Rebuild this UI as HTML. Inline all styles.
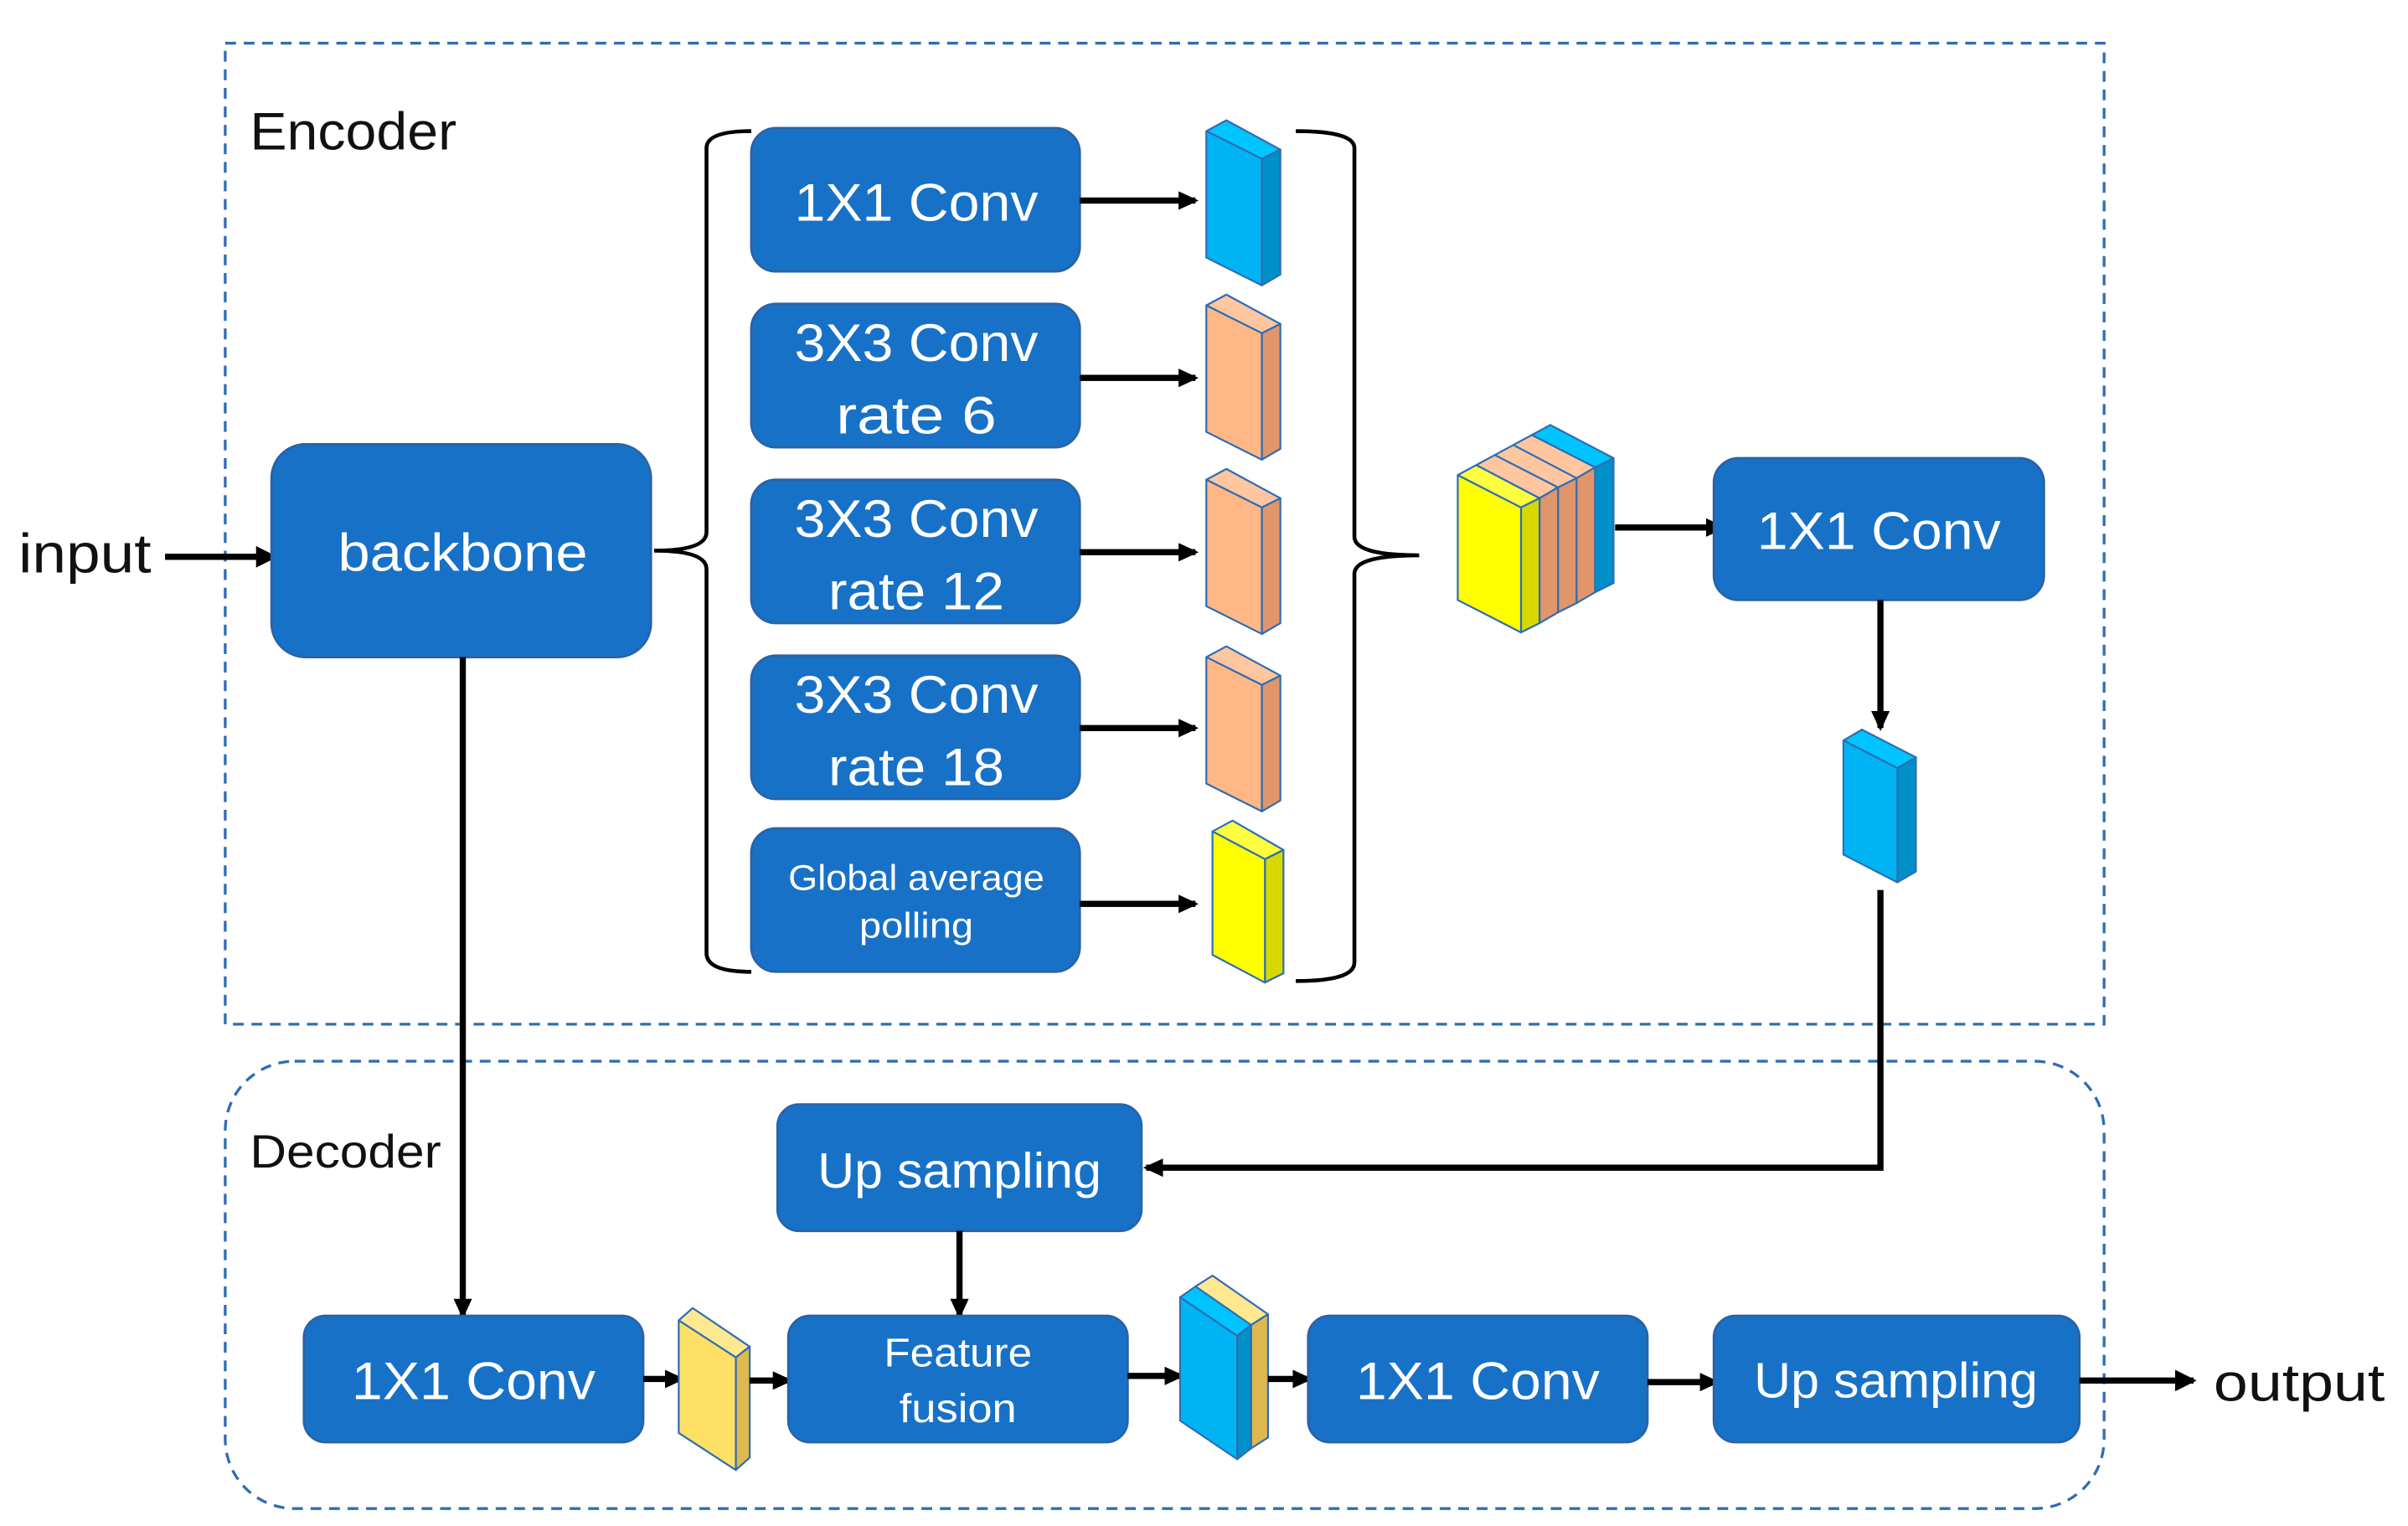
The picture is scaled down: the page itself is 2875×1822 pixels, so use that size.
<!DOCTYPE html>
<html><head><meta charset="utf-8"><style>
html,body{margin:0;padding:0;background:#fff;}
svg{display:block;}
text{font-family:"Liberation Sans",sans-serif;}
.w{fill:#fff;text-anchor:middle;}
.b{fill:#1771C7;stroke:#2A62A8;stroke-width:1.5;}
.ln{stroke:#000;stroke-width:4;fill:none;}
.br{stroke:#000;stroke-width:2.5;fill:none;}
.blk{stroke:#2E6DB4;stroke-width:1.2;stroke-linejoin:round;}
</style></head><body>
<svg width="2875" height="1822" viewBox="0 0 1561 989.3" preserveAspectRatio="none" xmlns="http://www.w3.org/2000/svg">
<defs>
<marker id="ah" markerWidth="13" markerHeight="12" refX="11" refY="6" orient="auto" markerUnits="userSpaceOnUse">
<path d="M0,0 L13,6 L0,12 z" fill="#000"/></marker>
<marker id="ah2" markerWidth="14" markerHeight="14" refX="12" refY="7" orient="auto" markerUnits="userSpaceOnUse">
<path d="M0,0 L14,7 L0,14 z" fill="#000"/></marker>
</defs>

<rect x="146" y="28" width="1218" height="636" fill="none" stroke="#2E6DB4" stroke-width="1.8" stroke-dasharray="7,5"/>
<rect x="146" y="688" width="1218" height="290" rx="45" fill="none" stroke="#2E6DB4" stroke-width="1.8" stroke-dasharray="7,5"/>
<text x="162" y="97" font-size="34" fill="#111" textLength="134" lengthAdjust="spacingAndGlyphs">Encoder</text>
<text x="162" y="757" font-size="30" fill="#111" textLength="124" lengthAdjust="spacingAndGlyphs">Decoder</text>

<text x="12" y="371" font-size="36" fill="#111" textLength="86" lengthAdjust="spacingAndGlyphs">input</text>
<line class="ln" x1="107" y1="361" x2="178" y2="361" marker-end="url(#ah2)"/>

<rect class="b" x="176" y="288" width="246" height="138" rx="22"/>
<text class="w" x="300" y="370" font-size="34" textLength="162" lengthAdjust="spacingAndGlyphs">backbone</text>

<path class="br" d="M487,85 Q458,85 458,96 L458,345 Q458,357 424,357 Q458,357 458,369 L458,618 Q458,630 487,630"/>
<path class="br" d="M840,85 Q878,85 878,96 L878,348 Q878,360 920,360 Q878,360 878,372 L878,624 Q878,636 840,636"/>

<rect class="b" x="487" y="83" width="213" height="93" rx="16"/>
<text class="w" x="594" y="143" font-size="34" textLength="158" lengthAdjust="spacingAndGlyphs">1X1 Conv</text>
<rect class="b" x="487" y="197" width="213" height="93" rx="16"/>
<text class="w" x="594" y="234" font-size="34" textLength="158" lengthAdjust="spacingAndGlyphs">3X3 Conv</text>
<text class="w" x="594" y="281" font-size="34" textLength="104" lengthAdjust="spacingAndGlyphs">rate 6</text>
<rect class="b" x="487" y="311" width="213" height="93" rx="16"/>
<text class="w" x="594" y="348" font-size="34" textLength="158" lengthAdjust="spacingAndGlyphs">3X3 Conv</text>
<text class="w" x="594" y="395" font-size="34" textLength="114" lengthAdjust="spacingAndGlyphs">rate 12</text>
<rect class="b" x="487" y="425" width="213" height="93" rx="16"/>
<text class="w" x="594" y="462" font-size="34" textLength="158" lengthAdjust="spacingAndGlyphs">3X3 Conv</text>
<text class="w" x="594" y="509" font-size="34" textLength="114" lengthAdjust="spacingAndGlyphs">rate 18</text>
<rect class="b" x="487" y="537" width="213" height="93" rx="16"/>
<text class="w" x="594" y="577" font-size="23" textLength="166" lengthAdjust="spacingAndGlyphs">Global average</text>
<text class="w" x="594" y="608" font-size="23" textLength="74" lengthAdjust="spacingAndGlyphs">polling</text>

<line class="ln" x1="700" y1="130" x2="775" y2="130" marker-end="url(#ah)"/>
<line class="ln" x1="700" y1="245" x2="775" y2="245" marker-end="url(#ah)"/>
<line class="ln" x1="700" y1="358" x2="775" y2="358" marker-end="url(#ah)"/>
<line class="ln" x1="700" y1="472" x2="775" y2="472" marker-end="url(#ah)"/>
<line class="ln" x1="700" y1="586" x2="775" y2="586" marker-end="url(#ah)"/>

<g class="blk">
<polygon points="782,85 795,78 830,97 818,103" fill="#00C4FF"/>
<polygon points="818,103 830,97 830,178 818,185" fill="#0090C8"/>
<polygon points="782,85 818,103 818,185 782,167" fill="#00B4F4"/>
<polygon points="782,198 795,191 830,210 818,216" fill="#FFC6A0"/>
<polygon points="818,216 830,210 830,291 818,298" fill="#E0966A"/>
<polygon points="782,198 818,216 818,298 782,280" fill="#FFB885"/>
<polygon points="782,311 795,304 830,323 818,329" fill="#FFC6A0"/>
<polygon points="818,329 830,323 830,404 818,411" fill="#E0966A"/>
<polygon points="782,311 818,329 818,411 782,393" fill="#FFB885"/>
<polygon points="782,426 795,419 830,438 818,444" fill="#FFC6A0"/>
<polygon points="818,444 830,438 830,519 818,526" fill="#E0966A"/>
<polygon points="782,426 818,444 818,526 782,508" fill="#FFB885"/>
<polygon points="786,539 799,532 832,551 820,557" fill="#FFFF40"/>
<polygon points="820,557 832,551 832,631 820,637" fill="#D8D800"/>
<polygon points="786,539 820,557 820,637 786,619" fill="#FFFF00"/>
</g>

<g class="blk">
<polygon points="993,282 1005,275.5 1046,297 1034,303" fill="#00C4FF"/>
<polygon points="1034,303 1046,297 1046,378 1034,384" fill="#0090C8"/>
<polygon points="981,288.5 993,282 1034,303 1022,310" fill="#FFC6A0"/>
<polygon points="1022,310 1034,303 1034,384 1022,391" fill="#E0966A"/>
<polygon points="969,295 981,288.5 1022,310 1010,316" fill="#FFC6A0"/>
<polygon points="1010,316 1022,310 1022,391 1010,397" fill="#E0966A"/>
<polygon points="957,301.5 969,295 1010,316 998,323" fill="#FFC6A0"/>
<polygon points="998,323 1010,316 1010,397 998,404" fill="#E0966A"/>
<polygon points="945,308 957,301.5 998,323 986,329" fill="#FFFF40"/>
<polygon points="986,329 998,323 998,404 986,410" fill="#D8D800"/>
<polygon points="945,308 986,329 986,410 945,389" fill="#FFFF00"/>
</g>
<line class="ln" x1="1047" y1="342" x2="1117" y2="342" marker-end="url(#ah)"/>

<rect class="b" x="1111" y="297" width="214" height="92" rx="16"/>
<text class="w" x="1218" y="356" font-size="34" textLength="158" lengthAdjust="spacingAndGlyphs">1X1 Conv</text>
<line class="ln" x1="1219" y1="389" x2="1219" y2="472" marker-end="url(#ah)"/>

<g class="blk">
<polygon points="1195,480 1207,473 1242,491 1230,498" fill="#00C4FF"/>
<polygon points="1230,498 1242,491 1242,565 1230,572" fill="#0090C8"/>
<polygon points="1195,480 1230,498 1230,572 1195,554" fill="#00B4F4"/>
</g>

<path class="ln" d="M1219,577 L1219,757 L743,757" marker-end="url(#ah)"/>
<rect class="b" x="504" y="716" width="236" height="82" rx="14"/>
<text class="w" x="622" y="770" font-size="32" textLength="184" lengthAdjust="spacingAndGlyphs">Up sampling</text>
<line class="ln" x1="622" y1="798" x2="622" y2="853" marker-end="url(#ah)"/>

<line class="ln" x1="300" y1="426" x2="300" y2="853" marker-end="url(#ah)"/>

<rect class="b" x="197" y="853" width="220" height="82" rx="14"/>
<text class="w" x="307" y="907" font-size="34" textLength="158" lengthAdjust="spacingAndGlyphs">1X1 Conv</text>
<line class="ln" x1="417" y1="894" x2="442" y2="894" marker-end="url(#ah)"/>
<g class="blk">
<polygon points="440,856 449,848 486,873 477,880" fill="#FFE890"/>
<polygon points="477,880 486,873 486,945 477,953" fill="#E0B850"/>
<polygon points="440,856 477,880 477,953 440,929" fill="#FFE066"/>
</g>
<line class="ln" x1="486" y1="895" x2="512" y2="895" marker-end="url(#ah)"/>
<rect class="b" x="511" y="853" width="220" height="82" rx="14"/>
<text class="w" x="621" y="886" font-size="26" textLength="96" lengthAdjust="spacingAndGlyphs">Feature</text>
<text class="w" x="621" y="922" font-size="26" textLength="76" lengthAdjust="spacingAndGlyphs">fusion</text>
<line class="ln" x1="731" y1="892" x2="766" y2="892" marker-end="url(#ah)"/>
<g class="blk">
<polygon points="775,834 786,827 822,852 811,859" fill="#FFE890"/>
<polygon points="811,859 822,852 822,932 811,939" fill="#E0B850"/>
<polygon points="765,841 775,834 811,859 802,866" fill="#00C4FF"/>
<polygon points="802,866 811,859 811,939 802,946" fill="#0090C8"/>
<polygon points="765,841 802,866 802,946 765,921" fill="#00B4F4"/>
</g>
<line class="ln" x1="822" y1="894" x2="849" y2="894" marker-end="url(#ah)"/>
<rect class="b" x="848" y="853" width="220" height="82" rx="14"/>
<text class="w" x="958" y="907" font-size="34" textLength="158" lengthAdjust="spacingAndGlyphs">1X1 Conv</text>
<line class="ln" x1="1068" y1="896" x2="1113" y2="896" marker-end="url(#ah)"/>
<rect class="b" x="1111" y="853" width="237" height="82" rx="14"/>
<text class="w" x="1229" y="906" font-size="32" textLength="184" lengthAdjust="spacingAndGlyphs">Up sampling</text>
<line class="ln" x1="1348" y1="895" x2="1422" y2="895" marker-end="url(#ah2)"/>
<text x="1435" y="908" font-size="34" fill="#111" textLength="111" lengthAdjust="spacingAndGlyphs">output</text>
</svg>
</body></html>
